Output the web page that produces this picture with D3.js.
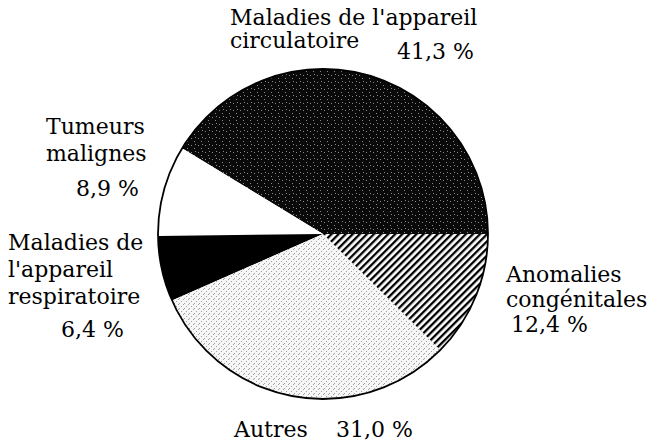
<!DOCTYPE html>
<html>
<head>
<meta charset="utf-8">
<script src="https://cdn.jsdelivr.net/npm/d3@7"></script>
<style>
  body { margin: 0; background: #fff; }
  text { font-family: "DejaVu Serif", "Liberation Serif", serif; font-size: 22px; fill: #000; }
</style>
</head>
<body>
<div id="chart"></div>
<script>
// données
const categories = ["circulatoire", "tumeurs", "respiratoire", "autres", "anomalies"];
const values = [41.3, 8.9, 6.4, 31.0, 12.4];
const labelLines = [
  ["Maladies de l'appareil", "circulatoire"],
  ["Tumeurs", "malignes"],
  ["Maladies de", "l'appareil", "respiratoire"],
  ["Autres"],
  ["Anomalies", "congénitales"]
];

// mise en page des libellés (x, y de la ligne de base)
const lineLayout = [
  [[230, 25], [230, 48]],
  [[46, 134], [46, 161]],
  [[8, 250], [8, 277], [8, 304]],
  [[234, 437]],
  [[506, 282], [506, 307]]
];
const pctLayout = [[397, 59], [76, 196], [61, 337], [336, 437], [511, 332]];
const fills = ["url(#dark)", "#fff", "#000", "url(#stipple)", "url(#hatch)"];

const W = 649, H = 446;
const cx = 323, cy = 234, R = 165;

const svg = d3.select("#chart").append("svg")
  .attr("width", W)
  .attr("height", H);

// motifs
const defs = svg.append("defs");

const dark = defs.append("pattern")
  .attr("id", "dark")
  .attr("patternUnits", "userSpaceOnUse")
  .attr("width", 7).attr("height", 7);
dark.append("rect").attr("width", 7).attr("height", 7).attr("fill", "#0a0a0a");
[[1, 2], [4, 5], [5, 1]].forEach(p => {
  dark.append("rect").attr("x", p[0]).attr("y", p[1]).attr("width", 1).attr("height", 1).attr("fill", "#8a8a8a");
});

const stipple = defs.append("pattern")
  .attr("id", "stipple")
  .attr("patternUnits", "userSpaceOnUse")
  .attr("width", 5).attr("height", 5);
stipple.append("rect").attr("width", 5).attr("height", 5).attr("fill", "#f6f6f6");
[[0, 0], [3, 2], [1, 4]].forEach(p => {
  stipple.append("rect").attr("x", p[0]).attr("y", p[1]).attr("width", 1).attr("height", 1).attr("fill", "#a0a0a0");
});

const hatch = defs.append("pattern")
  .attr("id", "hatch")
  .attr("patternUnits", "userSpaceOnUse")
  .attr("width", 5).attr("height", 5)
  .attr("patternTransform", "rotate(45)");
hatch.append("rect").attr("width", 5).attr("height", 5).attr("fill", "#fff");
hatch.append("rect").attr("width", 2.3).attr("height", 5).attr("fill", "#000");

// secteurs : départ à l'est, sens anti-horaire
const pie = d3.pie()
  .sort(null)
  .value(d => d)
  .startAngle(Math.PI / 2)
  .endAngle(Math.PI / 2 - 2 * Math.PI);

const arc = d3.arc().innerRadius(0).outerRadius(R);

const g = svg.append("g").attr("transform", `translate(${cx},${cy})`);

g.selectAll("path.slice")
  .data(pie(values))
  .enter()
  .append("path")
  .attr("class", "slice")
  .attr("d", arc)
  .attr("fill", (d, i) => fills[i]);

g.append("circle")
  .attr("r", R)
  .attr("fill", "none")
  .attr("stroke", "#000")
  .attr("stroke-width", 1.8);

// libellés
const fmt = v => d3.format(".1f")(v).replace(".", ",") + " %";

categories.forEach((c, i) => {
  labelLines[i].forEach((line, j) => {
    svg.append("text")
      .attr("x", lineLayout[i][j][0])
      .attr("y", lineLayout[i][j][1])
      .text(line);
  });
  svg.append("text")
    .attr("x", pctLayout[i][0])
    .attr("y", pctLayout[i][1])
    .text(fmt(values[i]));
});
</script>
</body>
</html>
